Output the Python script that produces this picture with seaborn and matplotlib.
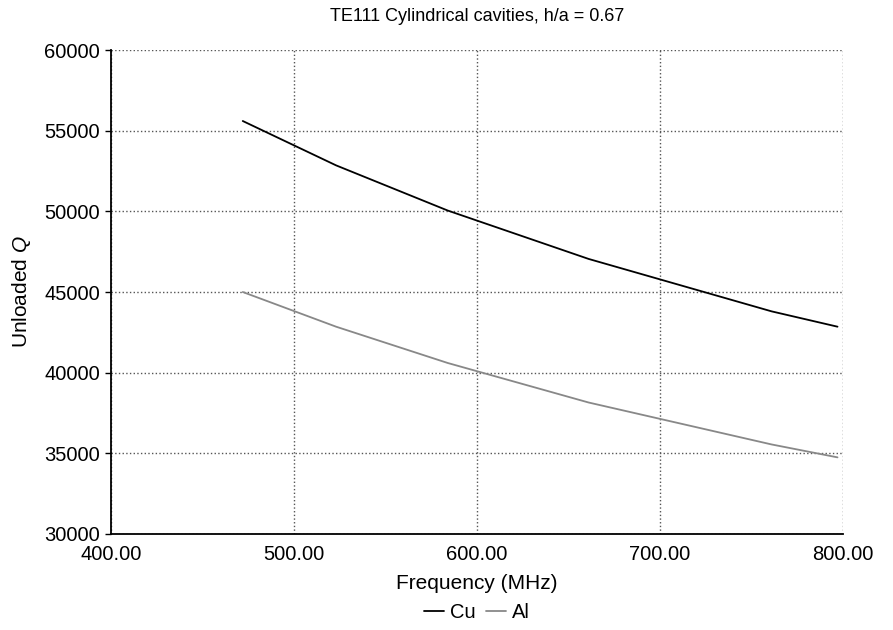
import pandas as pd
import matplotlib
matplotlib.use('Agg')
import matplotlib.pyplot as plt
import seaborn as sns
from matplotlib.ticker import FormatStrFormatter

# values
freq = [472, 523, 584, 661, 761, 797]
q_cu = [55600, 52850, 50050, 47050, 43800, 42850]
q_al = [45000, 42850, 40600, 38150, 35550, 34750]
materials = ['Cu', 'Al']

sns.set_theme(style='white')
plt.rcParams['font.family'] = ['Liberation Sans', 'DejaVu Sans']
plt.rcParams['mathtext.fontset'] = 'custom'
plt.rcParams['mathtext.it'] = 'Liberation Sans:italic'
plt.rcParams['mathtext.rm'] = 'Liberation Sans'
plt.rcParams['text.color'] = 'black'
plt.rcParams['axes.labelcolor'] = 'black'
plt.rcParams['xtick.color'] = 'black'
plt.rcParams['ytick.color'] = 'black'

df = pd.concat([
    pd.DataFrame({'freq': freq, 'Q': q_cu, 'mat': 'Cu'}),
    pd.DataFrame({'freq': freq, 'Q': q_al, 'mat': 'Al'}),
])

fig = plt.figure(figsize=(8.93, 6.3), dpi=100)
ax = fig.add_axes([0.1243, 0.1524, 0.8197, 0.7682])

sns.lineplot(data=df, x='freq', y='Q', hue='mat', hue_order=materials,
             palette={'Cu': '#000000', 'Al': '#888888'}, linewidth=1.3,
             estimator=None, ax=ax)

ax.set_xlim(400, 800)
ax.set_ylim(30000, 60000)
ax.set_xticks([400, 500, 600, 700, 800])
ax.set_yticks(range(30000, 60001, 5000))
ax.xaxis.set_major_formatter(FormatStrFormatter('%.2f'))
ax.grid(True, linestyle=':', color='#555555', linewidth=1.0)

for s in ['top', 'right']:
    ax.spines[s].set_visible(False)
for s in ['left', 'bottom']:
    ax.spines[s].set_color('black')
    ax.spines[s].set_linewidth(1.3)

ax.tick_params(axis='y', direction='out', length=4, width=1,
               labelsize=14.5, pad=4, left=True)
ax.tick_params(axis='x', length=0, labelsize=14.5, pad=8)

ax.set_title('TE111 Cylindrical cavities, h/a = 0.67', fontsize=13, pad=21)
ax.set_xlabel('Frequency (MHz)', fontsize=15, labelpad=7)
ax.set_ylabel('Unloaded $\\mathit{Q}$', fontsize=15, labelpad=8)

ax.legend(loc='center', bbox_to_anchor=(0.5, -0.163), ncol=2,
          frameon=False, fontsize=14.5, handlelength=1.0, handletextpad=0.3,
          columnspacing=0.5)

fig.savefig('out.png', dpi=100)
